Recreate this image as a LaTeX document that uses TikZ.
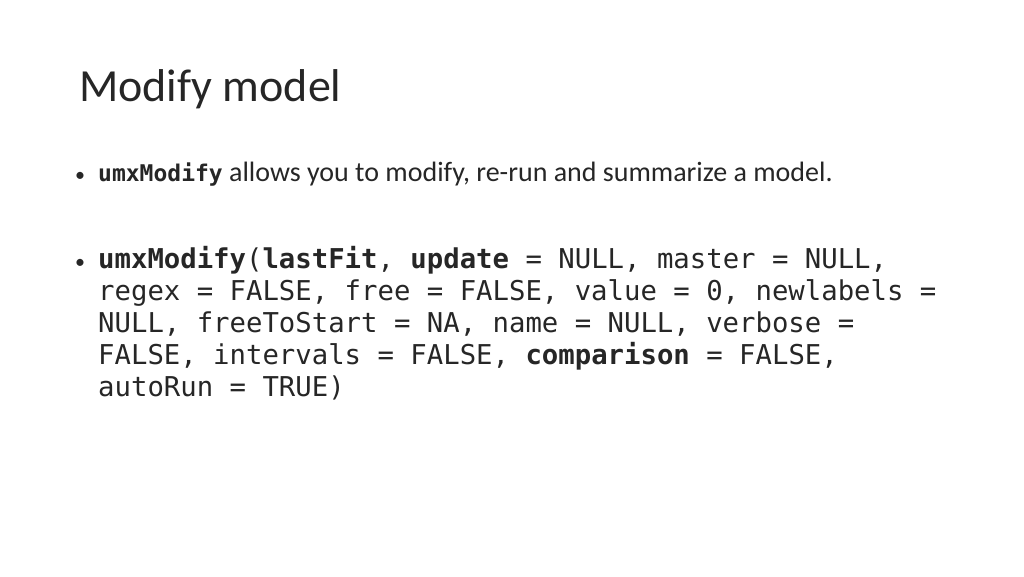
\documentclass[tikz,border=0pt]{standalone}
\usepackage{fontspec}
\setmainfont{Carlito}
\setmonofont{DejaVu Sans Mono}
\begin{document}
\begin{tikzpicture}[x=1pt,y=1pt,
  txt/.style={anchor=base west,inner sep=0pt,text=black!85},
  code/.style={txt,font=\fontsize{27.3}{32}\ttfamily}]
\useasboundingbox (0,0) rectangle (1024,-576);
\node[txt,font=\fontsize{46}{50}\selectfont] (title) at (79,-101) {Modify model};
\node[txt,font=\fontsize{20}{28}\selectfont] (b1) at (75,-181) {•};
\node[txt,font=\fontsize{28}{32}\selectfont] (l1) at (98,-181) {{\fontsize{23}{28}\ttfamily\bfseries umxModify} allows you to modify, re-run and summarize a model.};
\node[txt,font=\fontsize{20}{28}\selectfont] (b2) at (75,-268) {•};
\node[code] (c1) at (98,-268) {\textbf{umxModify}(\textbf{lastFit}, \textbf{update} = NULL, master = NULL,};
\node[code] (c2) at (98,-300) {regex = FALSE, free = FALSE, value = 0, newlabels =};
\node[code] (c3) at (98,-332) {NULL, freeToStart = NA, name = NULL, verbose =};
\node[code] (c4) at (98,-364) {FALSE, intervals = FALSE, \textbf{comparison} = FALSE,};
\node[code] (c5) at (98,-396) {autoRun = TRUE)};
\end{tikzpicture}
\end{document}
